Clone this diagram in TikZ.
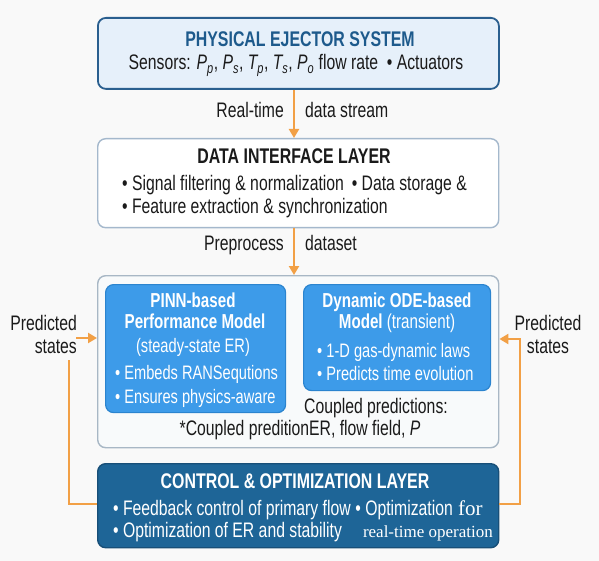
\documentclass[tikz,border=0pt]{standalone}
\usepackage{fontspec}
\setmainfont[FakeStretch=0.75]{Liberation Sans}
\newfontfamily\serifx{Liberation Serif}
\usetikzlibrary{arrows.meta}
\definecolor{bgc}{HTML}{F9F9F9}
\definecolor{orng}{HTML}{F2A046}
\definecolor{topfill}{HTML}{E6F0FA}
\definecolor{topdraw}{HTML}{2A5F8F}
\definecolor{ttlblue}{HTML}{1D5A8C}
\definecolor{datadraw}{HTML}{A4B8CC}
\definecolor{contdraw}{HTML}{A8B7C5}
\definecolor{contfill}{HTML}{F8FAFB}
\definecolor{pinnfill}{HTML}{3D9BE9}
\definecolor{pinndraw}{HTML}{2B84CF}
\definecolor{ctrlfill}{HTML}{1E6597}
\definecolor{ctrldraw}{HTML}{184F78}
\definecolor{txtc}{HTML}{1A1A1A}
\begin{document}
\begin{tikzpicture}[x=1pt,y=-1pt,
  boxbase/.style={rounded corners=8pt, anchor=north west, inner sep=0pt},
  topbox/.style={boxbase, draw=topdraw, fill=topfill, line width=1.8pt},
  databox/.style={boxbase, draw=datadraw, fill=white, line width=1.4pt},
  contbox/.style={boxbase, draw=contdraw, fill=contfill, line width=1.4pt},
  pinnbox/.style={boxbase, draw=pinndraw, fill=pinnfill, line width=1.2pt},
  ctrlbox/.style={boxbase, draw=ctrldraw, fill=ctrlfill, line width=1.4pt},
  txt/.style={inner sep=0pt, text=txtc, font=\fontsize{21}{25}\selectfont},
  ttl/.style={inner sep=0pt, font=\fontsize{21.2}{25}\selectfont\bfseries},
  intxt/.style={inner sep=0pt, text=white, font=\fontsize{19.5}{23}\selectfont},
  inttl/.style={inner sep=0pt, text=white, font=\fontsize{20.2}{24}\selectfont\bfseries},
  oline/.style={draw=orng, line width=2.2pt},
  oarr/.style={oline, -{Triangle[width=10pt,length=9pt]}},
]
\useasboundingbox (0,0) rectangle (599,561);
\fill[bgc] (0,0) rectangle (599,561);

% boxes
\node[topbox, minimum width=401pt, minimum height=71pt] (top) at (97,17) {};
\node[databox, minimum width=401pt, minimum height=89pt] (data) at (97,138) {};
\node[contbox, minimum width=401pt, minimum height=172pt] (cont) at (97,275) {};
\node[pinnbox, minimum width=180pt, minimum height=128pt] (pinn) at (105,284) {};
\node[pinnbox, minimum width=187pt, minimum height=106pt] (ode) at (303,284) {};
\node[ctrlbox, minimum width=401pt, minimum height=84pt] (ctrl) at (97,463) {};

% top box text
\node[ttl, text=ttlblue, anchor=base] (t1) at (300,47) {PHYSICAL EJECTOR SYSTEM};
\node[txt, anchor=base] (t2) at (296,70) {Sensors: {\itshape P}\textsubscript{\itshape p}, {\itshape P}\textsubscript{\itshape s}, {\itshape T}\textsubscript{\itshape p}, {\itshape T}\textsubscript{\itshape s}, {\itshape P}\textsubscript{\itshape o} flow rate\ \ •\ Actuators};

% arrow 1
\coordinate (ax) at (294,0);
\draw[oarr] (top.south -| ax) -- (data.north -| ax);
\node[txt, anchor=base east] (rt) at (284,118) {Real-time};
\node[txt, anchor=base west] (ds) at (305,118) {data stream};

% data box text
\node[ttl, text=txtc, anchor=base] (d1) at (294,164) {DATA INTERFACE LAYER};
\node[txt, anchor=base west] (d2) at (122,191) {•\ Signal filtering \& normalization};
\node[txt, anchor=base east] (d2b) at (467,191) {•\ Data storage \&};
\node[txt, anchor=base west] (d3) at (122,214) {•\ Feature extraction \& synchronization};

% arrow 2
\draw[oarr] (data.south -| ax) -- (cont.north -| ax);
\node[txt, anchor=base east] (pp) at (284,251) {Preprocess};
\node[txt, anchor=base west] (dd) at (305,251) {dataset};

% PINN box
\node[inttl, anchor=base] (p1) at (193,307) {PINN-based};
\node[inttl, anchor=base] (p2) at (195,328) {Performance Model};
\node[intxt, anchor=base] (p3) at (193,352) {(steady-state ER)};
\node[intxt, anchor=base west] (p4) at (115,379) {•\ Embeds RANSequtions};
\node[intxt, anchor=base west] (p5) at (115,403) {•\ Ensures physics-aware};

% ODE box
\node[inttl, anchor=base] (o1) at (397,307) {Dynamic ODE-based};
\node[inttl, anchor=base] (o2) at (397,328) {Model \mdseries(transient)};
\node[intxt, anchor=base west] (o3) at (317,357) {•\ 1-D gas-dynamic laws};
\node[intxt, anchor=base west] (o4) at (317,380) {•\ Predicts time evolution};

% coupled
\node[txt, anchor=base] (c1) at (376,413) {Coupled predictions:};
\node[txt, anchor=base] (c2) at (300,435) {*Coupled preditionER, flow field, {\itshape P}};

% control box
\node[ttl, text=white, anchor=base] (k1) at (295,488) {CONTROL \& OPTIMIZATION LAYER};
\node[txt, text=white, anchor=base west] (k2) at (113,515) {•\ Feedback control of primary flow};
\node[txt, text=white, anchor=base east] (k2b) at (453,515) {•\ Optimization};
\node[inner sep=0pt, text=white, font=\serifx\fontsize{21}{24}\selectfont, anchor=base west] (k3) at (458,515) {for};
\node[txt, text=white, anchor=base west] (k4) at (113,537) {•\ Optimization of ER and stability};
\node[inner sep=0pt, text=white, font=\serifx\fontsize{17}{20}\selectfont, anchor=base east] (k5) at (493,537) {real-time operation};

% left feedback
\node[txt, anchor=base east] (lp1) at (77,330) {Predicted};
\node[txt, anchor=base east] (lp2) at (77,353) {states};
\coordinate (la) at (76,338);
\draw[oarr] (la) -- (cont.west |- la);
\coordinate (lb) at (69,504);
\coordinate (lt) at (69,360);
\draw[oline] (ctrl.west |- lb) -- (lb) -- (lt);

% right feedback
\node[txt, anchor=base] (rp1) at (548,330) {Predicted};
\node[txt, anchor=base] (rp2) at (548,353) {states};
\coordinate (rb) at (520,504);
\coordinate (rtp) at (520,339);
\draw[oarr] (ctrl.east |- rb) -- (rb) -- (rtp) -- (cont.east |- rtp);
\end{tikzpicture}
\end{document}
